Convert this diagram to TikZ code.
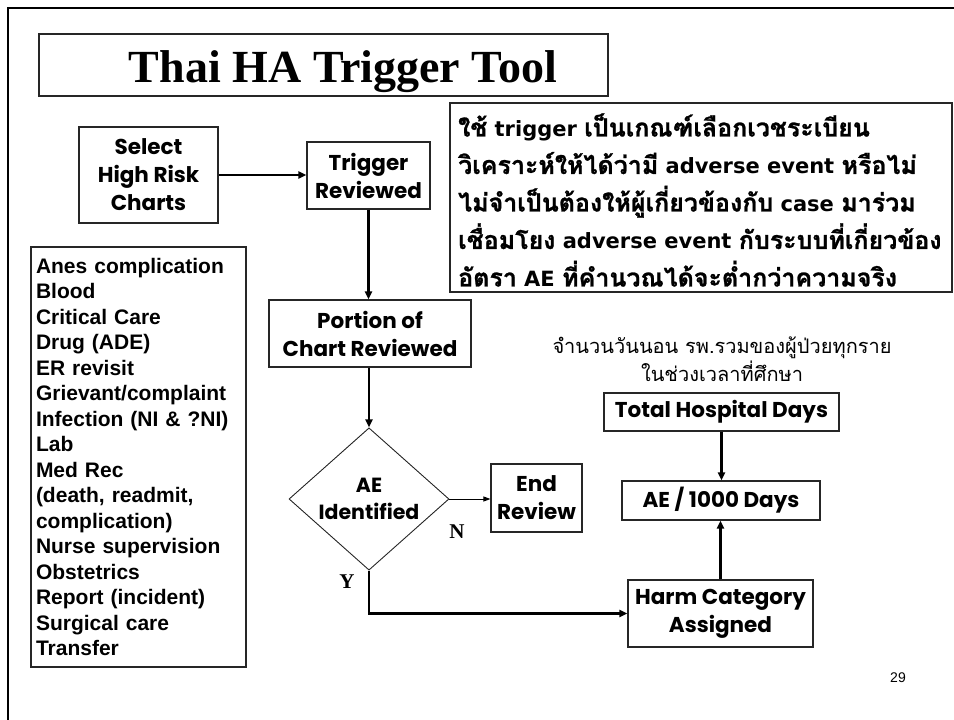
\documentclass[tikz,border=0pt]{standalone}
\usepackage{fontspec}
\setmainfont{Liberation Sans}
\newfontfamily\titlefont{Liberation Serif}
\newfontfamily\comic{Poppins}
\newfontfamily\thai[Script=Thai]{Loma}
\newfontfamily\thaib[Script=Thai,FakeBold=1]{Loma}
\newfontfamily\dvs{DejaVu Sans}
\usetikzlibrary{arrows.meta,shapes.geometric}
\newcommand\thx[1]{{\thaib\fontsize{25}{37.5}\selectfont #1}}
\tikzset{
  box/.style={draw=black!85, line width=1.1pt, inner sep=0pt, align=center, fill=white},
  cbox/.style={box, font=\comic\bfseries\fontsize{21.5}{28}\selectfont},
  arr/.style={-{Triangle[length=8pt,width=7pt]}, line width=2.2pt},
  thinarr/.style={-{Triangle[length=7pt,width=5pt]}, line width=0.9pt},
  lbl/.style={font=\titlefont\bfseries\fontsize{21}{24}\selectfont, inner sep=0pt},
}
\begin{document}
\begin{tikzpicture}[x=1pt,y=-1pt]
\useasboundingbox (0,0) rectangle (954,720);
% outer frame
\draw[line width=2.4pt] (8,730) -- (8,8) -- (962,8);
% title
\node[box, minimum width=569pt, minimum height=62pt] (title) at (323.5,65) {};
\node[anchor=base, inner sep=0pt, font=\titlefont\bfseries\fontsize{46}{50}\selectfont] (titletxt) at (343,82) {Thai HA Trigger Tool};
% left nodes
\node[cbox, minimum width=139pt, minimum height=96pt] (sel) at (148.5,175) {Select\\High Risk\\Charts};
\node[cbox, minimum width=123pt, minimum height=67pt] (trig) at (368.5,175.5) {Trigger\\Reviewed};
% thai box
\node[box, minimum width=502pt, minimum height=189pt] (note) at (701,197.5) {};
\node[inner sep=0pt, anchor=west, align=left,
  font=\dvs\bfseries\fontsize{21}{37.5}\selectfont] (notetxt) at (458,200) {%
\thx{ใช้} trigger \thx{เป็นเกณฑ์เลือกเวชระเบียน}\\
\thx{วิเคราะห์ให้ได้ว่ามี} adverse event \thx{หรือไม่}\\
\thx{ไม่จำเป็นต้องให้ผู้เกี่ยวข้องกับ} case \thx{มาร่วม}\\
\thx{เชื่อมโยง} adverse event \thx{กับระบบที่เกี่ยวข้อง}\\
\thx{อัตรา} AE \thx{ที่คำนวณได้จะต่ำกว่าความจริง}};
% list box
\node[box, minimum width=215pt, minimum height=420pt, align=left, text width=205pt,
  font=\bfseries\fontsize{21}{25.5}\selectfont] (list) at (138.5,457) {%
Anes complication\\Blood\\Critical Care\\Drug (ADE)\\ER revisit\\Grievant/complaint\\Infection (NI \& ?NI)\\Lab\\Med Rec\\(death, readmit,\\complication)\\Nurse supervision\\Obstetrics\\Report (incident)\\Surgical care\\Transfer};
% flow
\node[cbox, minimum width=202pt, minimum height=67pt] (portion) at (370,333.5) {Portion of\\Chart Reviewed};
\node[draw=black!85, line width=0.9pt, diamond, minimum width=160pt, minimum height=104pt, inner sep=0pt, align=center, fill=white,
  font=\comic\bfseries\fontsize{20.5}{27}\selectfont] (diam) at (369,499) {AE\\Identified};
\node[cbox, minimum width=91pt, minimum height=68pt] (endr) at (536.5,498) {End\\Review};
\node[cbox, minimum width=185pt, minimum height=67pt] (harm) at (720.5,613.5) {Harm Category\\Assigned};
\node[cbox, minimum width=198pt, minimum height=39pt] (ae) at (721,500.5) {AE / 1000 Days};
\node[cbox, minimum width=235pt, minimum height=38pt] (total) at (721.5,412) {Total Hospital Days};
\node[font=\thai\fontsize{20}{28}\selectfont, align=center, inner sep=0pt] (cap) at (722,359) {จำนวนวันนอน รพ.รวมของผู้ป่วยทุกราย\\ในช่วงเวลาที่ศึกษา};
\node[lbl] (nlab) at (457,532) {N};
\node[lbl] (ylab) at (347,582) {Y};
\node[font=\fontsize{14}{16}\selectfont, inner sep=0pt] (page) at (898,678) {29};
% connectors
\draw[arr] (sel.east) -- (trig.west |- sel.east);
\draw[arr] (trig.south) -- (trig.south |- portion.north);
\draw[arr] (portion.south -| diam.north) -- (diam.north);
\draw[thinarr] (diam.east) -- (endr.west |- diam.east);
\draw[arr] (diam.south) |- (harm.west);
\draw[arr] (total.south) -- (total.south |- ae.north);
\draw[arr] (harm.north) -- (harm.north |- ae.south);
\end{tikzpicture}
\end{document}
